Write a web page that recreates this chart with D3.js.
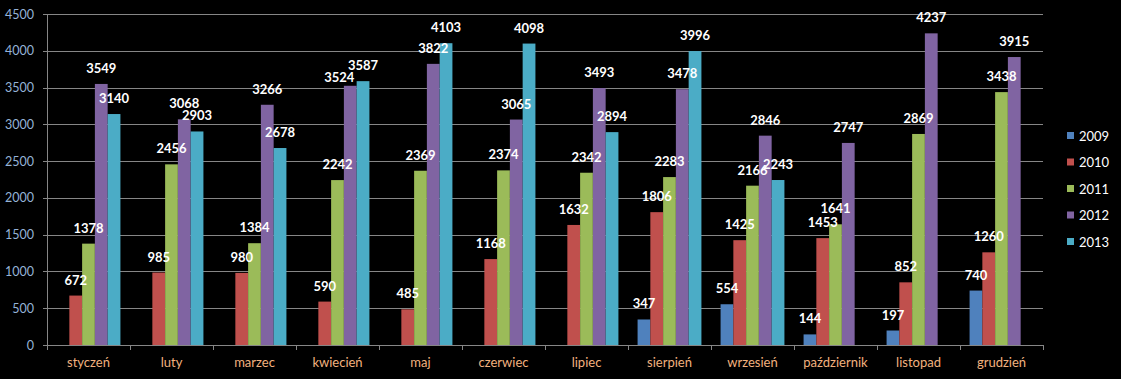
<!DOCTYPE html>
<html><head><meta charset="utf-8">
<script src="https://cdn.jsdelivr.net/npm/d3@7/dist/d3.min.js"></script>
<style>html,body{margin:0;padding:0;background:#000;}svg{display:block;}</style>
</head><body>
<svg id="chart" width="1121" height="379"></svg>
<script>
const months = ["styczeń","luty","marzec","kwiecień","maj","czerwiec","lipiec","sierpień","wrzesień","październik","listopad","grudzień"];
const years = ["2009","2010","2011","2012","2013"];
const v2009 = [null,null,null,null,null,null,null,347,554,144,197,740];
const v2010 = [672,985,980,590,485,1168,1632,1806,1425,1453,852,1260];
const v2011 = [1378,2456,1384,2242,2369,2374,2342,2283,2166,1641,2869,3438];
const v2012 = [3549,3068,3266,3524,3822,3065,3493,3478,2846,2747,4237,3915];
const v2013 = [3140,2903,2678,3587,4103,4098,2894,3996,2243,null,null,null];
const yTicks = [0,500,1000,1500,2000,2500,3000,3500,4000,4500];
const colors = ["#4f81bd","#c0504d","#9bbb59","#8064a2","#4bacc6"];

const series = [v2009,v2010,v2011,v2012,v2013];
const svg = d3.select("#chart");
const mLeft = 47, mRight = 1043, mTop = 14, mBottom = 345;
const FONT = "Lato, 'Open Sans', sans-serif";

const x = d3.scaleBand().domain(months).range([mLeft,mRight]).paddingInner(0).paddingOuter(0);
const bw = x.bandwidth()/6.5;
const x1 = d3.scaleBand().domain(years).range([bw*0.75, bw*5.75]).padding(0);
const y = d3.scaleLinear().domain([0,4500]).range([mBottom,mTop]);

// gridlines
svg.append("g").selectAll("line").data(yTicks.filter(t=>t>0)).join("line")
  .attr("x1",mLeft).attr("x2",mRight).attr("y1",d=>Math.round(y(d))+0.5).attr("y2",d=>Math.round(y(d))+0.5)
  .attr("stroke","#868686").attr("stroke-width",1);

// y axis
const yAxis = d3.axisLeft(y).tickValues(yTicks).tickFormat(d3.format("d")).tickSize(4).tickPadding(9);
const gy = svg.append("g").attr("transform",`translate(${mLeft},0)`).call(yAxis);
gy.select(".domain").attr("stroke","#868686").attr("shape-rendering","crispEdges");
gy.selectAll(".tick line").attr("stroke","#868686").attr("shape-rendering","crispEdges");
gy.selectAll(".tick text").attr("fill","#95b3d7").style("font-family",FONT).style("font-size","12.5px");

// bars
series.forEach((s,si)=>{
  const data = months.map((m,i)=>({m, v:s[i]})).filter(d=>d.v!=null);
  svg.append("g").selectAll("rect").data(data).join("rect")
    .attr("x",d=>x(d.m)+x1(years[si]))
    .attr("width",x1.bandwidth())
    .attr("y",d=>y(d.v))
    .attr("height",d=>mBottom-y(d.v))
    .attr("fill",colors[si]);
});

// labels, with a simple collision nudge between neighbouring bars
const labels = [];
months.forEach((m,mi)=>{
  const row = [];
  series.forEach((s,si)=>{
    if (s[mi]!=null) row.push({m, si, v:s[mi], lx:x(m)+x1(years[si])+x1.bandwidth()/2, ly:y(s[mi])-11});
  });
  for (let k=0;k<row.length-1;k++){
    const a=row[k], b=row[k+1];
    if (Math.abs(a.ly-b.ly) < 10 && b.si===a.si+1){
      a.lx -= 11; a.ly += 7;
    }
  }
  labels.push(...row);
});
svg.append("g").selectAll("text").data(labels).join("text")
  .attr("x",d=>d.lx)
  .attr("y",d=>d.ly)
  .attr("text-anchor","middle")
  .attr("fill","#ffffff")
  .style("font-family",FONT)
  .style("font-weight","bold")
  .style("font-size","13px")
  .text(d=>d.v);

// x axis
const xAxis = d3.axisBottom(x).tickSize(0).tickPadding(13);
const gx = svg.append("g").attr("transform",`translate(0,${mBottom})`).call(xAxis);
gx.select(".domain").attr("stroke","#868686").attr("shape-rendering","crispEdges");
gx.selectAll(".tick text").attr("fill","#f2b27f").style("font-family",FONT).style("font-size","13px");
// category boundary ticks
svg.append("g").selectAll("line").data(months.concat(["_end"])).join("line")
  .attr("x1",(d,i)=>i<months.length?x(d):mRight).attr("x2",(d,i)=>i<months.length?x(d):mRight)
  .attr("y1",mBottom).attr("y2",mBottom+5)
  .attr("stroke","#868686").attr("shape-rendering","crispEdges");

// legend
const lg = svg.append("g").selectAll("g").data(years).join("g")
  .attr("transform",(d,i)=>`translate(1067,${136+i*26.5})`);
lg.append("rect").attr("x",0).attr("y",-4).attr("width",7).attr("height",7).attr("fill",(d,i)=>colors[i]);
lg.append("text").attr("x",12).attr("y",0).attr("dy","0.35em").attr("fill","#ffffff")
  .style("font-family",FONT).style("font-size","13px").text(d=>d);
</script>
</body></html>
